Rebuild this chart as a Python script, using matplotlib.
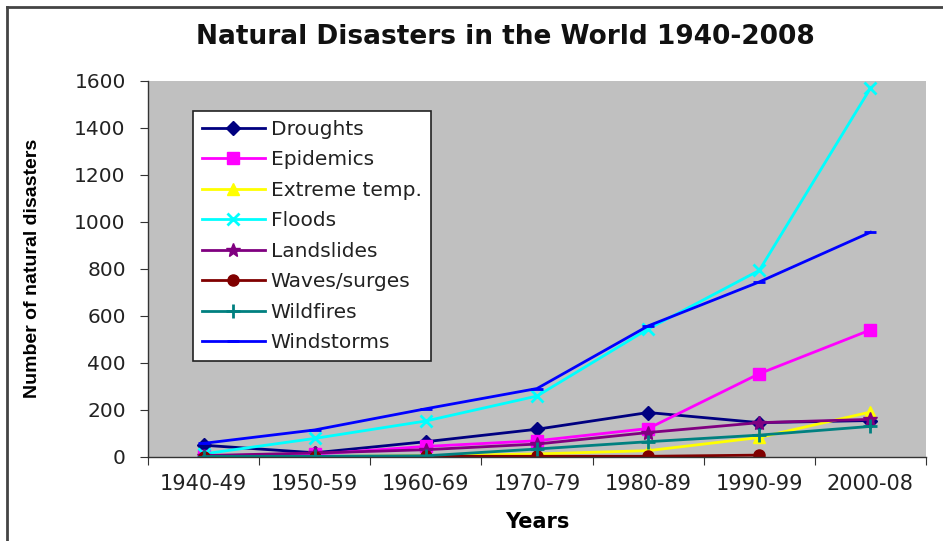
import numpy as np
import matplotlib
matplotlib.use("Agg")
import matplotlib.pyplot as plt
from matplotlib.lines import Line2D

plt.rcParams['font.family'] = ['DejaVu Sans']

decades = ["1940-49", "1950-59", "1960-69", "1970-79", "1980-89", "1990-99", "2000-08"]

droughts = [50, 18, 65, 118, 189, 146, 155]
epidemics = [5, 12, 45, 69, 121, 354, 540]
extreme_temp = [3, 2, 5, 13, 27, 83, 191]
floods = [13, 79, 153, 259, 544, 793, 1567]
landslides = [6, 17, 31, 55, 104, 146, 160]
waves_surges = [1, 2, 3, 3, 3, 8, np.nan]
wildfires = [2, 3, 5, 34, 65, 93, 130]
windstorms = [58, 115, 205, 291, 557, 744, 955]

series = [
    ("Droughts", droughts, "#000080", "D", 7),
    ("Epidemics", epidemics, "#FF00FF", "s", 8),
    ("Extreme temp.", extreme_temp, "#FFFF00", "^", 8),
    ("Floods", floods, "#00FFFF", "x", 8),
    ("Landslides", landslides, "#800080", "*", 10),
    ("Waves/surges", waves_surges, "#800000", "o", 8),
    ("Wildfires", wildfires, "#008080", "+", 10),
    ("Windstorms", windstorms, "#0000FF", "_", 9),
]

fig = plt.figure(figsize=(9.43, 5.41), dpi=100)
ax = fig.add_axes([148 / 943, 1 - 457 / 541, (926 - 148) / 943, (457 - 80.5) / 541])
ax.set_facecolor("#C0C0C0")

x = np.arange(len(decades))
for name, vals, color, marker, ms in series:
    mew = 2.0 if marker in ("x", "+", "_") else 1.0
    ax.plot(x, vals, color=color, marker=marker, markersize=ms, lw=2,
            markeredgewidth=mew, markeredgecolor=color, label=name)

ax.set_xlim(-0.5, len(decades) - 0.5)
ax.set_ylim(0, 1600)
ax.set_yticks(range(0, 1601, 200))
ax.set_xticks(np.arange(-0.5, len(decades), 1.0))
ax.set_xticklabels([])
ax.set_xticks(x, minor=True)
ax.set_xticklabels(decades, minor=True)
ax.tick_params(axis="x", which="minor", length=0, pad=12, labelsize=15, labelcolor="#222222")
ax.tick_params(axis="x", which="major", length=6, direction="out", color="#333333")
ax.tick_params(axis="y", length=6, direction="out", color="#333333", labelsize=14.5,
               labelcolor="#222222", pad=10)

for side in ("top", "right"):
    ax.spines[side].set_visible(False)
for side in ("left", "bottom"):
    ax.spines[side].set_color("#333333")
    ax.spines[side].set_linewidth(1.0)

ax.set_xlabel("Years", fontsize=15, fontweight="bold", labelpad=13)
ax.set_ylabel("Number of natural disasters", fontsize=14, fontweight="bold",
              family="Liberation Sans")
ax.yaxis.set_label_coords(-0.137, 0.5)

fig.text(0.536, 1 - 37 / 541, "Natural Disasters in the World 1940-2008",
         ha="center", va="center", fontsize=19, fontweight="bold", color="#111111")

leg = ax.legend(loc="upper left", bbox_to_anchor=(0.058, 0.92), fontsize=14.5,
                frameon=True, fancybox=False, edgecolor="#222222", framealpha=1,
                handlelength=3.1, labelspacing=0.57, borderpad=0.45, handletextpad=0.3,
                borderaxespad=0)
leg.get_frame().set_linewidth(1.2)
for t in leg.get_texts():
    t.set_color("#222222")

# outer frame lines along the top and left of the figure
fig.add_artist(Line2D([7 / 943, 1.0], [1 - 7 / 541, 1 - 7 / 541], color="#444444", lw=2,
                      transform=fig.transFigure))
fig.add_artist(Line2D([7 / 943, 7 / 943], [0, 1 - 7 / 541], color="#444444", lw=2,
                      transform=fig.transFigure))

fig.savefig("out.png", dpi=100, facecolor="white")
